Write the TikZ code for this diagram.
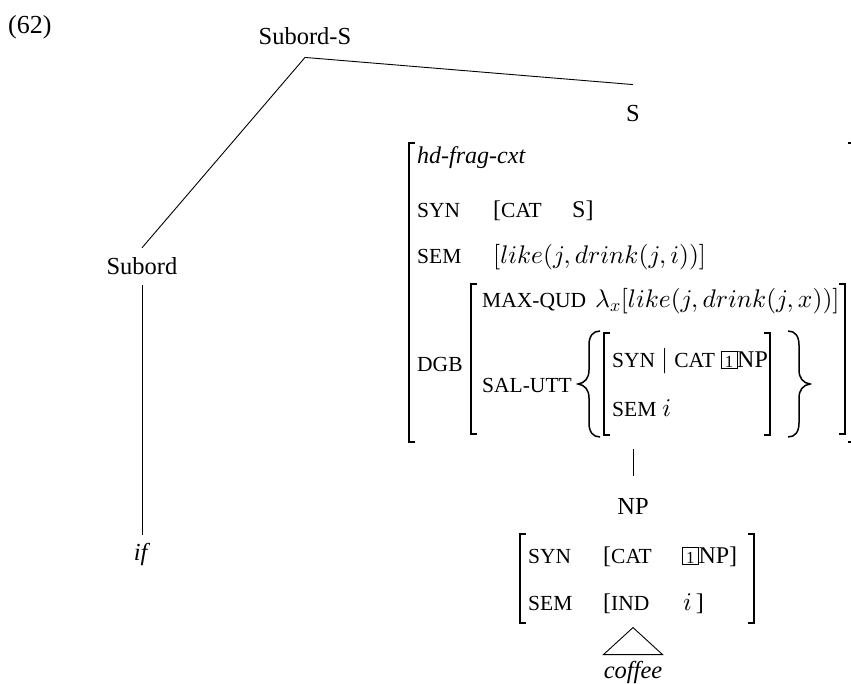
\documentclass[tikz,border=0pt]{standalone}
\usepackage[no-math]{fontspec}
\setmainfont{Liberation Serif}
\DeclareFontShape{OML}{cmm}{m}{it}{<->cmmi10}{}
\DeclareFontShape{OT1}{cmr}{m}{n}{<->cmr10}{}
\DeclareFontShape{OMS}{cmsy}{m}{n}{<->cmsy10}{}
\DeclareMathSizes{24}{25.5}{18}{13}
\newcommand\feat[1]{{\fontsize{21.5}{24}\selectfont #1}}
\newcommand\tagbx[1]{{\setlength\fboxsep{0.8pt}\setlength\fboxrule{0.6pt}\fbox{\makebox[13.5pt]{\rule[-0.5pt]{0pt}{15pt}\fontsize{17}{17}\selectfont #1}}}}
\tikzset{
  tree/.style={font=\fontsize{24.5}{28}\selectfont, inner xsep=0pt, anchor=base},
  avm/.style={font=\fontsize{24}{28}\selectfont, inner sep=0pt, anchor=base west},
  edge/.style={line width=0.9pt},
  brk/.style={line width=1.4pt},
  brace/.style={line width=1.5pt},
}
\newcommand\lbrk[3]{\draw[brk] (#1+6,#2) -- (#1,#2) -- (#1,#3) -- (#1+6,#3);}
\newcommand\rbrk[3]{\draw[brk] (#1-6,#2) -- (#1,#2) -- (#1,#3) -- (#1-6,#3);}
\begin{document}
\begin{tikzpicture}[x=1pt,y=-1pt]
\useasboundingbox (0,0) rectangle (851,684);
\node[anchor=base west, inner sep=0pt, font=\fontsize{26}{30}\selectfont] (ex) at (8,34) {(62)};
% tree labels
\node[tree, inner ysep=12pt] (subS) at (305,45) {Subord-S};
\node[tree, inner ysep=21pt] (S) at (633,122) {S};
\node[tree, inner ysep=10pt] (subord) at (142,275) {Subord};
\node[tree, inner ysep=8pt] (if) at (142,560) {\textit{if}};
\draw[edge] (subS.south) -- (S.north);
\draw[edge] (subS.south) -- (subord.north);
\draw[edge] (subord.south) -- (if.north);
% outer AVM of S
\lbrk{409}{143}{442}
\rbrk{854}{143}{442}
\node[avm] (type) at (417,164) {\textit{hd-frag-cxt}};
\node[avm] (syn) at (417,218) {\feat{SYN}};
\node[avm] (syncat) at (493,218) {[\feat{CAT}};
\node[avm] (synval) at (572,218) {S]};
\node[avm] (sem) at (417,264) {\feat{SEM}};
\node[avm] (semval) at (493,264) {$[like(j,drink(j,i))]$};
\node[avm] (dgb) at (417,371) {\feat{DGB}};
\lbrk{471}{284}{434}
\rbrk{845}{284}{434}
\node[avm] (mq) at (482,308) {\feat{MAX-QUD}};
\node[avm] (mqval) at (595,308) {$\lambda_x[like(j,drink(j,x))]$};
\node[avm] (sal) at (482,392) {\feat{SAL-UTT}};
% set braces
\draw[brace] (600,331) .. controls (593,331) and (589,336) .. (589,345) -- (589,370)
  .. controls (589,378) and (585,383) .. (578,384)
  .. controls (585,385) and (589,390) .. (589,398) -- (589,423)
  .. controls (589,432) and (593,437) .. (600,437);
\draw[brace] (788,331) .. controls (795,331) and (799,336) .. (799,345) -- (799,370)
  .. controls (799,378) and (803,383) .. (810,384)
  .. controls (803,385) and (799,390) .. (799,398) -- (799,423)
  .. controls (799,432) and (795,437) .. (788,437);
\lbrk{604}{333}{435}
\rbrk{770}{333}{435}
\node[avm] (salsyn) at (612,367) {\feat{SYN} $|$ \feat{CAT} \tagbx{1}NP};
\node[avm] (salsem) at (612,416) {\feat{SEM} $i$};
% NP daughter
\coordinate (Sbot) at (633,449);
\node[tree, inner ysep=22pt] (NP) at (633,514) {NP};
\draw[edge] (Sbot) -- (NP.north);
\lbrk{520}{534}{623}
\rbrk{754}{534}{623}
\node[avm] (npsyn) at (528,563) {\feat{SYN}};
\node[avm] (npcat) at (603,563) {[\feat{CAT}};
\node[avm] (npcatv) at (682,563) {\tagbx{1}NP]};
\node[avm] (npsem) at (528,610) {\feat{SEM}};
\node[avm] (npind) at (603,610) {[\feat{IND}};
\node[avm] (npindv) at (683,610) {$i$\,]};
\node[tree, inner ysep=0.5pt] (coffee) at (633,678) {\textit{coffee}};
\draw[edge] (coffee.north) ++(-29.5,-5.5) -- ++(29.5,-27) -- ++(29.5,27) -- cycle;
\end{tikzpicture}
\end{document}
